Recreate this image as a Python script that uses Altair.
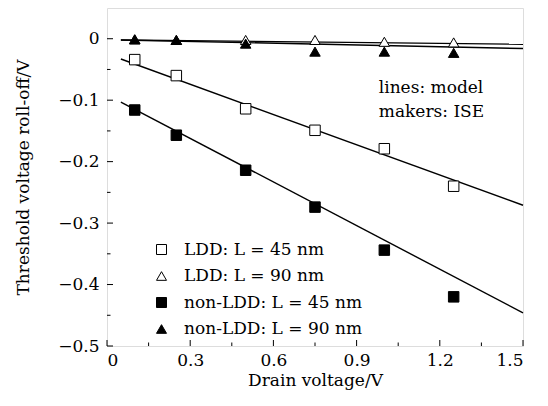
import altair as alt
import pandas as pd

series_names = ["LDD: L = 45 nm", "LDD: L = 90 nm", "non-LDD: L = 45 nm", "non-LDD: L = 90 nm"]
x_points = [0.1, 0.25, 0.5, 0.75, 1.0, 1.25]
ldd45 = [-0.034, -0.060, -0.114, -0.149, -0.179, -0.240]
ldd90 = [-0.001, -0.002, -0.002, -0.002, -0.005, -0.006]
nonldd45 = [-0.116, -0.157, -0.214, -0.274, -0.344, -0.420]
nonldd90 = [-0.001, -0.002, -0.008, -0.021, -0.021, -0.023]

line_x = [0.05, 1.5]
line_ldd45 = [-0.033, -0.271]
line_ldd90 = [-0.002, -0.009]
line_nonldd45 = [-0.103, -0.446]
line_nonldd90 = [-0.002, -0.016]

x_major = [0, 0.3, 0.6, 0.9, 1.2, 1.5]
x_minor = [0.15, 0.45, 0.75, 1.05, 1.35]
y_major = [0, -0.1, -0.2, -0.3, -0.4, -0.5]
y_minor = [-0.05, -0.15, -0.25, -0.35, -0.45]

FONT = "DejaVu Serif"
FS = 17
W, H = 416, 338

pts = pd.DataFrame(
    [{"x": x, "y": y, "series": s}
     for s, ys in zip(series_names, [ldd45, ldd90, nonldd45, nonldd90])
     for x, y in zip(x_points, ys)]
)
lines = pd.DataFrame(
    [{"x": x, "y": y, "series": s}
     for s, ys in zip(series_names, [line_ldd45, line_ldd90, line_nonldd45, line_nonldd90])
     for x, y in zip(line_x, ys)]
)

xs = alt.Scale(domain=[0, 1.5], nice=False, zero=False)
ys = alt.Scale(domain=[-0.5, 0.05], nice=False, zero=False)

xaxis = alt.Axis(values=x_major, ticks=False, domain=False, grid=False,
                 labelExpr="datum.value == 0 ? '0' : format(datum.value, '.1f')",
                 labelFont=FONT, labelFontSize=FS, labelColor="black", labelPadding=6,
                 title="Drain voltage/V", titleFont=FONT, titleFontSize=FS,
                 titleFontWeight="normal", titleColor="black", titlePadding=4)
yaxis = alt.Axis(values=y_major, ticks=False, domain=False, grid=False,
                 labelExpr="datum.value == 0 ? '0' : format(datum.value, '.1f')",
                 labelFont=FONT, labelFontSize=FS, labelColor="black", labelPadding=8,
                 title="Threshold voltage roll-off/V", titleFont=FONT, titleFontSize=FS,
                 titleFontWeight="normal", titleColor="black", titlePadding=25)

line_layer = alt.Chart(lines).mark_line(color="black", strokeWidth=1.4).encode(
    x=alt.X("x:Q", scale=xs, axis=xaxis),
    y=alt.Y("y:Q", scale=ys, axis=yaxis),
    detail="series:N",
)

leg = alt.Legend(title=None, orient="none", legendX=46, legendY=233,
                 labelFont=FONT, labelFontSize=FS, labelColor="black", labelLimit=400,
                 symbolSize=100, symbolStrokeWidth=1, rowPadding=8.5, labelOffset=14,
                 padding=0)

point_layer = alt.Chart(pts).mark_point(strokeWidth=1, opacity=1, size=110).encode(
    x=alt.X("x:Q", scale=xs),
    y=alt.Y("y:Q", scale=ys),
    shape=alt.Shape("series:N", scale=alt.Scale(domain=series_names,
                    range=["square", "triangle-up", "square", "triangle-up"]), legend=leg),
    fill=alt.Fill("series:N", scale=alt.Scale(domain=series_names,
                  range=["white", "white", "black", "black"]), legend=leg),
    stroke=alt.Stroke("series:N", scale=alt.Scale(domain=series_names,
                      range=["black", "black", "black", "black"]), legend=leg),
)

xt_major = pd.DataFrame({"v": x_major})
xt_minor = pd.DataFrame({"v": x_minor})
yt_major = pd.DataFrame({"v": y_major})
yt_minor = pd.DataFrame({"v": y_minor})

tick_x_major = alt.Chart(xt_major).mark_rule(color="black", strokeWidth=1).encode(
    x=alt.X("v:Q", scale=xs), y=alt.value(H), y2=alt.value(H - 6))
tick_x_minor = alt.Chart(xt_minor).mark_rule(color="black", strokeWidth=1).encode(
    x=alt.X("v:Q", scale=xs), y=alt.value(H), y2=alt.value(H - 3.5))
tick_y_major = alt.Chart(yt_major).mark_rule(color="black", strokeWidth=1).encode(
    y=alt.Y("v:Q", scale=ys), x=alt.value(0), x2=alt.value(6))
tick_y_minor = alt.Chart(yt_minor).mark_rule(color="black", strokeWidth=1).encode(
    y=alt.Y("v:Q", scale=ys), x=alt.value(0), x2=alt.value(3.5))

notes = pd.DataFrame({"x": [0.98, 0.98], "y": [-0.088, -0.128],
                      "t": ["lines: model", "makers: ISE"]})
note_layer = alt.Chart(notes).mark_text(font=FONT, fontSize=FS, align="left",
                                        baseline="alphabetic", color="black").encode(
    x=alt.X("x:Q", scale=xs), y=alt.Y("y:Q", scale=ys), text="t:N")

chart = alt.layer(
    line_layer, point_layer, tick_x_major, tick_x_minor, tick_y_major, tick_y_minor, note_layer
).properties(width=W, height=H, background="white").configure_view(
    stroke="black", strokeWidth=1.2
).configure(padding={"left": 6, "top": 0, "right": 5, "bottom": 5})

chart.save("out.html", embed_options={"renderer": "svg", "actions": False})
